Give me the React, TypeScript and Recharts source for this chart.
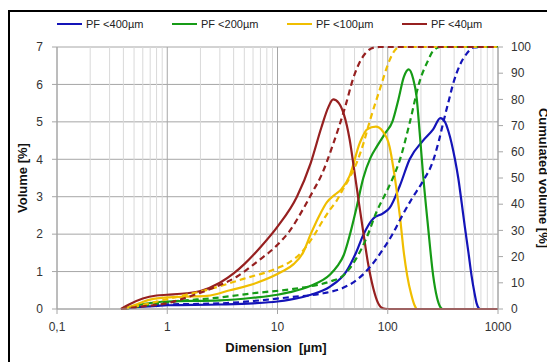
import React from 'react';
import { LineChart, Line, XAxis, YAxis, CartesianGrid, ReferenceLine } from 'recharts';

// particle size distributions: [dimension µm, value]
const pf400Volume = [[0.4, 0], [0.5, 0.04], [0.8, 0.08], [1, 0.1], [3, 0.12], [6, 0.15], [10, 0.2], [13, 0.25], [20, 0.38], [30, 0.6], [42, 1.0], [52, 1.53], [60, 1.98], [74, 2.42], [90, 2.55], [104, 2.7], [129, 3.3], [158, 4.0], [209, 4.5], [258, 4.8], [300, 5.1], [330, 5.0], [355, 4.75], [407, 4.0], [436, 3.5], [470, 2.8], [500, 2.2], [540, 1.5], [575, 0.9], [610, 0.45], [640, 0.15], [670, 0.02], [690, 0], [1000, 0]];
const pf400Cumul = [[0.4, 0], [0.8, 1.6], [3.2, 2.2], [13, 4.5], [26, 6], [39, 8], [52, 11], [69, 16], [90, 22.6], [112, 29], [129, 34], [165, 42], [210, 49], [255, 56], [290, 64], [318, 71], [360, 80], [392, 86], [450, 93], [520, 97.5], [600, 99.8], [700, 100], [1000, 100]];

const pf200Volume = [[0.4, 0], [0.5, 0.08], [0.8, 0.18], [1, 0.2], [3, 0.23], [6, 0.3], [10, 0.38], [13, 0.45], [20, 0.62], [30, 0.92], [35, 1.15], [40, 1.45], [45, 1.95], [52, 2.7], [60, 3.5], [70, 4.05], [80, 4.35], [95, 4.7], [110, 5.0], [125, 5.6], [140, 6.2], [155, 6.4], [170, 6.15], [182, 5.7], [195, 4.7], [209, 3.6], [232, 2.2], [258, 0.9], [280, 0.3], [300, 0.05], [315, 0], [1000, 0]];
const pf200Cumul = [[0.4, 0], [0.8, 2], [1, 2.6], [3, 4.4], [6, 6], [13, 7.5], [20, 8.7], [30, 10.5], [40, 13], [52, 19.4], [64, 27], [79, 37], [98, 45], [110, 49.5], [129, 57], [158, 71], [195, 87], [230, 94.5], [258, 98.5], [300, 100], [1000, 100]];

const pf100Volume = [[0.4, 0], [0.5, 0.1], [0.7, 0.25], [1, 0.31], [1.5, 0.33], [2.3, 0.35], [3.7, 0.5], [6.5, 0.7], [11, 1.0], [14, 1.2], [17, 1.5], [20, 2.0], [24, 2.5], [28, 2.85], [33, 3.05], [38, 3.2], [45, 3.55], [56, 4.45], [65, 4.8], [78, 4.87], [90, 4.75], [104, 4.33], [112, 3.8], [120, 3.2], [129, 2.47], [140, 1.5], [150, 0.9], [163, 0.4], [175, 0.1], [185, 0], [1000, 0]];
const pf100Cumul = [[0.4, 0], [0.7, 2.2], [1.1, 4.2], [2.3, 7.3], [4.9, 11.5], [10, 15.6], [13, 18], [16, 21], [21, 27.5], [26, 34], [30, 38], [34, 41], [39, 45.5], [45, 50], [52, 55.6], [60, 63], [69, 72], [85, 84], [104, 95], [115, 98.5], [130, 100], [1000, 100]];

const pf40Volume = [[0.38, 0], [0.45, 0.12], [0.6, 0.28], [0.8, 0.36], [1, 0.38], [1.5, 0.42], [2, 0.48], [3, 0.7], [4, 0.95], [5, 1.2], [7, 1.65], [10, 2.2], [15, 3.0], [20, 3.9], [25, 4.85], [29, 5.4], [32, 5.6], [36, 5.5], [40, 5.2], [45, 4.55], [50, 3.65], [55, 2.8], [60, 2.05], [66, 1.25], [74, 0.55], [82, 0.15], [90, 0.02], [100, 0], [1000, 0]];
const pf40Cumul = [[0.38, 0], [0.6, 1], [1, 2.2], [1.6, 4.8], [2.8, 8.6], [4.3, 12.4], [6.5, 18], [10, 24.5], [13, 30], [17, 38], [21, 45], [25, 51], [32, 63], [41, 77], [49, 88.5], [57, 95], [64, 98], [75, 99.8], [85, 100], [1000, 100]];

const seriesNames = ['PF <400µm', 'PF <200µm', 'PF <100µm', 'PF <40µm'];
const colors = ['#1414B8', '#169B16', '#F0BE00', '#962020'];

const xTicks = [0.1, 1, 10, 100, 1000];
const minorX = [0.2, 0.3, 0.4, 0.5, 0.6, 0.7, 0.8, 0.9, 2, 3, 4, 5, 6, 7, 8, 9, 20, 30, 40, 50, 60, 70, 80, 90, 200, 300, 400, 500, 600, 700, 800, 900];
const leftTicks = [0, 1, 2, 3, 4, 5, 6, 7];
const rightTicks = [0, 10, 20, 30, 40, 50, 60, 70, 80, 90, 100];

const toRows = (pts: number[][]) => pts.map(([x, y]) => ({ x, y }));
const volumes = [pf400Volume, pf200Volume, pf100Volume, pf40Volume].map(toRows);
const cumuls = [pf400Cumul, pf200Cumul, pf100Cumul, pf40Cumul].map(toRows);

const font = '"Liberation Sans", Arial, sans-serif';
const tickStyle = { fontSize: 12, fill: '#333', fontFamily: font };

export default function App() {
    return (
        <div style={{ position: 'relative', width: 547, height: 354, overflow: 'hidden', fontFamily: font }}>
            {/* outer frame, right and bottom edges fall outside the picture */}
            <div style={{ position: 'absolute', left: 0, top: 2, width: 600, height: 400, border: '2px solid #000' }} />

            {/* legend */}
            {seriesNames.map((name, i) => (
                <div key={name} style={{ position: 'absolute', left: 49 + i * 115, top: 10, display: 'flex', alignItems: 'center', fontSize: 11, color: '#222' }}>
                    <div style={{ width: 25, height: 2.5, background: colors[i], marginRight: 4 }} />
                    <span>{name}</span>
                </div>
            ))}

            <div style={{ position: 'absolute', left: 0, top: 0 }}>
                <LineChart width={547} height={354} margin={{ top: 39, right: 15, bottom: 5, left: 5 }}>
                    <CartesianGrid vertical={false} stroke="#a6a6a6" />
                    {minorX.map(v => (
                        <ReferenceLine key={`m${v}`} x={v} stroke="#d9d9d9" />
                    ))}
                    {xTicks.map(v => (
                        <ReferenceLine key={`M${v}`} x={v} stroke="#a6a6a6" />
                    ))}
                    <XAxis type="number" dataKey="x" scale="log" domain={[0.1, 1000]} allowDataOverflow ticks={xTicks}
                        tickFormatter={(v: number) => (v === 0.1 ? '0,1' : String(v))}
                        height={48} tickSize={5} tickMargin={8} stroke="#a6a6a6" tick={tickStyle} />
                    <YAxis domain={[0, 7]} ticks={leftTicks} width={44} tickSize={5} tickMargin={9} stroke="#a6a6a6" tick={tickStyle} />
                    <YAxis yAxisId="right" orientation="right" domain={[0, 100]} ticks={rightTicks} width={42} tickSize={5} tickMargin={8} stroke="#a6a6a6" tick={tickStyle} />

                    {volumes.map((d, i) => (
                        <Line key={`v${i}`} data={d} dataKey="y" type="monotone" stroke={colors[i]} strokeWidth={2.2}
                            dot={false} activeDot={false} isAnimationActive={false} />
                    ))}
                    {cumuls.map((d, i) => (
                        <Line key={`c${i}`} yAxisId="right" data={d} dataKey="y" type="monotone" stroke={colors[i]} strokeWidth={2.2}
                            strokeDasharray="6 4" dot={false} activeDot={false} isAnimationActive={false} />
                    ))}
                </LineChart>
            </div>

            {/* axis titles */}
            <div style={{ position: 'absolute', left: 14, top: 170, transform: 'translate(-50%, -50%) rotate(-90deg)', fontSize: 13, fontWeight: 'bold', whiteSpace: 'nowrap', color: '#111' }}>
                Volume [%]
            </div>
            <div style={{ position: 'absolute', left: 535, top: 170, transform: 'translate(-50%, -50%) rotate(90deg)', fontSize: 13, fontWeight: 'bold', whiteSpace: 'nowrap', color: '#111' }}>
                Cumulated volume [%]
            </div>
            <div style={{ position: 'absolute', left: 268, top: 339, transform: 'translate(-50%, -50%)', fontSize: 13, fontWeight: 'bold', whiteSpace: 'pre', color: '#111' }}>
                {'Dimension  [µm]'}
            </div>
        </div>
    );
}
